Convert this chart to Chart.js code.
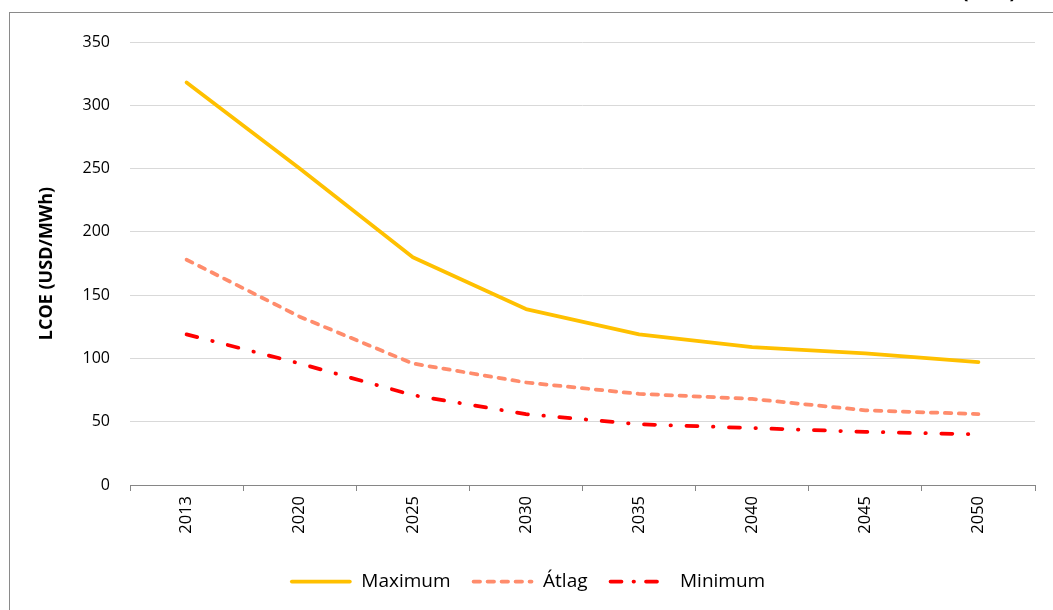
<!DOCTYPE html>
<html>
<head>
<meta charset="utf-8">
<script src="https://cdn.jsdelivr.net/npm/chart.js@4/dist/chart.umd.min.js"></script>
<style>
  html, body { margin: 0; padding: 0; background: #fff; overflow: hidden; }
  #frame { position: absolute; left: 9px; top: 12px; width: 1200px; height: 700px;
           border-left: 1px solid #8a8a8a; border-top: 1px solid #8a8a8a; }
  #wrap { position: absolute; left: 0; top: 0; width: 1053px; height: 610px; }
</style>
</head>
<body>
<div id="frame"></div>
<div id="wrap"><canvas id="chart" width="1053" height="610"></canvas></div>
<script>
// LCOE range per year (USD/MWh)
const years = ['2013', '2020', '2025', '2030', '2035', '2040', '2045', '2050'];
const maximum = [318, 250, 180, 139, 119, 109, 104, 97];
const atlag = [178, 133, 96, 81, 72, 68, 59, 56];
const minimum = [119, 96, 71, 56, 48, 45, 42, 40];
const yTicks = [0, 50, 100, 150, 200, 250, 300, 350];
const seriesNames = ['Maximum', 'Átlag', 'Minimum'];

const FONT = "'Open Sans', 'Liberation Sans', sans-serif";
const LEGEND_BOX = 62;
const LEGEND_PAD_BOTTOM = 9;
const PLOT_BOTTOM = 485;

// Header text, mostly above the canvas edge
const headerText = {
  id: 'headerText',
  afterDraw(chart) {
    const ctx = chart.ctx;
    ctx.save();
    ctx.font = 'bold 20px ' + FONT;
    ctx.fillStyle = '#000';
    ctx.textAlign = 'center';
    ctx.textBaseline = 'alphabetic';
    ctx.fillText('(USD)', 989, -2);
    ctx.restore();
  }
};

// Legend samples drawn as line segments carrying each dataset's dash pattern
const legendLines = {
  id: 'legendLines',
  afterDraw(chart) {
    const legend = chart.legend;
    if (!legend || !legend.legendHitBoxes) return;
    const ctx = chart.ctx;
    legend.legendHitBoxes.forEach((box, i) => {
      const ds = chart.data.datasets[i];
      const y = box.top + box.height / 2;
      ctx.save();
      ctx.strokeStyle = ds.borderColor;
      ctx.lineWidth = ds.borderWidth;
      ctx.lineCap = 'round';
      ctx.setLineDash(ds.legendDash || []);
      ctx.beginPath();
      ctx.moveTo(box.left + 2, y);
      ctx.lineTo(box.left + LEGEND_BOX - 2, y);
      ctx.stroke();
      ctx.restore();
    });
  }
};

new Chart(document.getElementById('chart'), {
  type: 'line',
  data: {
    labels: years,
    datasets: [
      { label: seriesNames[0], data: maximum, borderColor: '#FFC000', backgroundColor: '#FFC000',
        borderWidth: 3.75, borderCapStyle: 'round', borderJoinStyle: 'round' },
      { label: seriesNames[1], data: atlag, borderColor: '#FF8C6C', backgroundColor: '#FF8C6C',
        borderWidth: 3.75, borderCapStyle: 'round', borderJoinStyle: 'round', borderDash: [6.5, 7.5],
        legendDash: [6.5, 7.5] },
      { label: seriesNames[2], data: minimum, borderColor: '#FF0000', backgroundColor: '#FF0000',
        borderWidth: 3.75, borderCapStyle: 'round', borderJoinStyle: 'round', borderDash: [11, 15.5, 0.5, 15.5],
        legendDash: [11, 12, 0.5, 12] }
    ]
  },
  options: {
    responsive: false,
    animation: false,
    elements: { point: { radius: 0, hoverRadius: 0 }, line: { tension: 0 } },
    layout: { padding: { left: 20, right: 18, top: 42, bottom: LEGEND_PAD_BOTTOM } },
    plugins: {
      tooltip: { enabled: false },
      legend: {
        position: 'bottom',
        labels: {
          boxWidth: LEGEND_BOX,
          boxHeight: 4,
          padding: 21,
          color: '#000',
          font: { family: FONT, size: 19 },
          generateLabels(chart) {
            return chart.data.datasets.map((ds, i) => ({
              text: ds.label,
              fillStyle: 'rgba(0,0,0,0)',
              strokeStyle: 'rgba(0,0,0,0)',
              lineWidth: 0,
              fontColor: '#000',
              hidden: false,
              datasetIndex: i
            }));
          }
        }
      }
    },
    scales: {
      x: {
        offset: true,
        grid: { display: true, drawOnChartArea: false, drawTicks: true, tickLength: 6, color: '#868686', offset: true },
        border: { display: true, color: '#868686', width: 1 },
        ticks: { minRotation: 90, maxRotation: 90, padding: 5, color: '#000', font: { family: FONT, size: 16.5 } },
        afterFit(scale) {
          const legendH = scale.chart.legend ? scale.chart.legend.height : 0;
          scale.height = 610 - LEGEND_PAD_BOTTOM - legendH - PLOT_BOTTOM;
        }
      },
      y: {
        min: 0, max: 350,
        afterBuildTicks(scale) { scale.ticks = yTicks.map(v => ({ value: v })); },
        grid: { color: '#d9d9d9', lineWidth: 1, drawTicks: false },
        border: { display: false },
        ticks: { padding: 20, color: '#000', font: { family: FONT, size: 16 } },
        title: { display: true, text: 'LCOE (USD/MWh)', color: '#000', padding: { top: 16, bottom: 0 },
                 font: { family: FONT, size: 18, weight: 'bold' } },
        afterFit(scale) { scale.width = 110; }
      }
    }
  },
  plugins: [headerText, legendLines]
});
</script>
</body>
</html>
